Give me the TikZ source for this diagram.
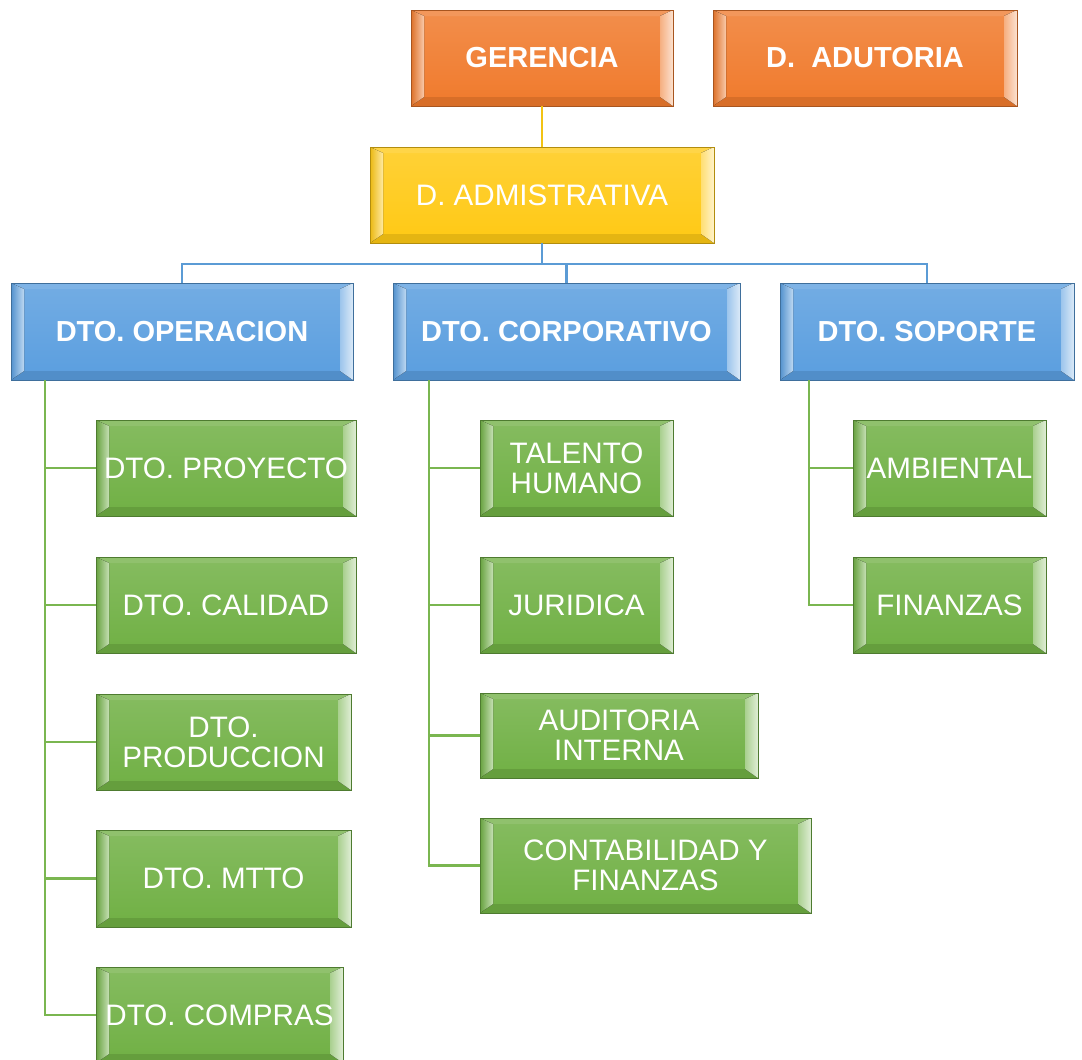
\documentclass[tikz,border=0pt]{standalone}
\usepackage{fontspec}
\setmainfont{Liberation Sans}
\usetikzlibrary{calc}

\definecolor{cOrange}{HTML}{F07A2C}
\definecolor{cYellow}{HTML}{FFC914}
\definecolor{cBlue}{HTML}{5A9EDF}
\definecolor{cGreen}{HTML}{70B044}
\definecolor{lnYellow}{HTML}{F2C314}
\definecolor{lnBlue}{HTML}{5B9BD5}
\definecolor{lnGreen}{HTML}{7AB650}

\tikzset{
  bevel/.style={
    draw=#1!70!black, line width=0.9pt,
    top color=#1!85!white, bottom color=#1,
    inner sep=0pt, outer sep=0pt, anchor=north west,
    text=white, align=center,
    font=\fontsize{29.6}{30}\selectfont,
    path picture={
      \coordinate (SW) at (path picture bounding box.south west);
      \coordinate (NW) at (path picture bounding box.north west);
      \coordinate (NE) at (path picture bounding box.north east);
      \coordinate (SE) at (path picture bounding box.south east);
      % top and bottom facets
      \fill[#1!78!white] (NW) -- ($(NW)+(13pt,-6pt)$) -- ($(NE)+(-13pt,-6pt)$) -- (NE) -- cycle;
      \fill[#1!90!black] (SW) -- ($(SW)+(13pt,9pt)$) -- ($(SE)+(-13pt,9pt)$) -- (SE) -- cycle;
      % left facet, darker outside and bright along its inner edge
      \fill[left color=#1!92!black, right color=#1!40!white]
        (SW) -- ($(SW)+(13pt,9pt)$) -- ($(NW)+(13pt,-6pt)$) -- (NW) -- cycle;
      % right facet with a bright highlight
      \fill[left color=#1!60!white, right color=#1!22!white]
        (SE) -- ($(SE)+(-13pt,9pt)$) -- ($(NE)+(-13pt,-6pt)$) -- (NE) -- cycle;
    }
  },
  boldtxt/.style={font=\fontsize{29}{29}\selectfont\bfseries},
  yline/.style={draw=lnYellow, line width=2.4pt},
  bline/.style={draw=lnBlue, line width=2.4pt},
  gline/.style={draw=lnGreen, line width=2.4pt},
}

\begin{document}
\begin{tikzpicture}[x=1pt, y=-1pt]
\useasboundingbox (0,0) rectangle (1082,1060);
\clip (0,0) rectangle (1082,1060);
\fill[white] (0,0) rectangle (1082,1060);

% top level
\node[bevel=cOrange, boldtxt, minimum width=262pt, minimum height=96pt] (ger) at (411,10) {GERENCIA};
\node[bevel=cOrange, boldtxt, minimum width=304pt, minimum height=96pt] (aud) at (713,10) {D.\ \ ADUTORIA};
\node[bevel=cYellow, minimum width=344pt, minimum height=96pt] (adm) at (370,147) {D. ADMISTRATIVA};

% departments
\node[bevel=cBlue, boldtxt, minimum width=342pt, minimum height=97pt] (op) at (11,283) {DTO. OPERACION};
\node[bevel=cBlue, boldtxt, minimum width=347pt, minimum height=97pt] (corp) at (393,283) {DTO. CORPORATIVO};
\node[bevel=cBlue, boldtxt, minimum width=294pt, minimum height=97pt] (sop) at (780,283) {DTO. SOPORTE};

% operacion units
\node[bevel=cGreen, minimum width=260pt, minimum height=96pt] (p1) at (96,420) {DTO. PROYECTO};
\node[bevel=cGreen, minimum width=260pt, minimum height=96pt] (p2) at (96,557) {DTO. CALIDAD};
\node[bevel=cGreen, minimum width=255pt, minimum height=96pt] (p3) at (96,694) {DTO.\\PRODUCCION};
\node[bevel=cGreen, minimum width=255pt, minimum height=97pt] (p4) at (96,830) {DTO. MTTO};
\node[bevel=cGreen, minimum width=247pt, minimum height=96pt] (p5) at (96,967) {DTO. COMPRAS};

% corporativo units
\node[bevel=cGreen, minimum width=193pt, minimum height=96pt] (c1) at (480,420) {TALENTO\\HUMANO};
\node[bevel=cGreen, minimum width=193pt, minimum height=96pt] (c2) at (480,557) {JURIDICA};
\node[bevel=cGreen, minimum width=278pt, minimum height=85pt] (c3) at (480,693) {AUDITORIA\\INTERNA};
\node[bevel=cGreen, minimum width=331pt, minimum height=95pt] (c4) at (480,818) {CONTABILIDAD Y\\FINANZAS};

% soporte units
\node[bevel=cGreen, minimum width=193pt, minimum height=96pt] (s1) at (853,420) {AMBIENTAL};
\node[bevel=cGreen, minimum width=193pt, minimum height=96pt] (s2) at (853,557) {FINANZAS};

% connectors
\draw[yline] (ger.south) -- (adm.north);
\draw[bline] (adm.south) -- ++(0,21);
\draw[bline] (op.north) -- ++(0,-19) -| (sop.north);
\draw[bline] (corp.north) -- ++(0,-19);

\coordinate (opt) at (45,380);
\draw[gline] (opt) |- (p5.west);
\foreach \n in {p1,p2,p3,p4} \draw[gline] (\n.west) -- (\n.west -| opt);

\coordinate (cot) at (429,380);
\draw[gline] (cot) |- (c4.west);
\foreach \n in {c1,c2,c3} \draw[gline] (\n.west) -- (\n.west -| cot);

\coordinate (sot) at (809,380);
\draw[gline] (sot) |- (s2.west);
\draw[gline] (s1.west) -- (s1.west -| sot);
\end{tikzpicture}
\end{document}
